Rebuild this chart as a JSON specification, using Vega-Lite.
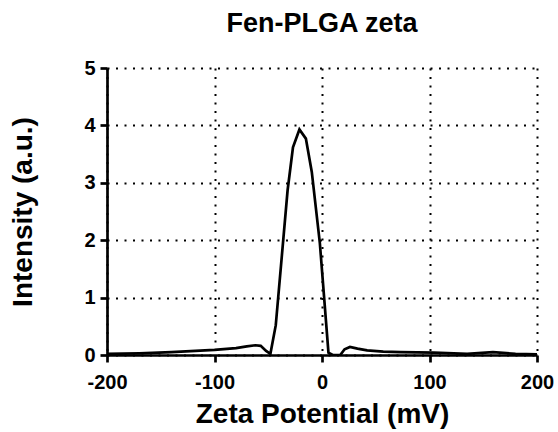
{
  "$schema": "https://vega.github.io/schema/vega-lite/v6.json",
  "autosize": "none",
  "width": 430,
  "height": 287,
  "padding": {"left": 107, "top": 68, "right": 21, "bottom": 77},
  "background": "white",
  "title": {"text": "Fen-PLGA zeta", "font": "Liberation Sans", "fontSize": 27, "fontWeight": "bold", "color": "black", "offset": 20, "anchor": "middle"},
  "data": {"values": [
    {"x": -200, "y": 0.02}, {"x": -170, "y": 0.03}, {"x": -140, "y": 0.05}, {"x": -100, "y": 0.09},
    {"x": -80, "y": 0.12}, {"x": -70, "y": 0.15}, {"x": -62, "y": 0.17}, {"x": -57, "y": 0.16},
    {"x": -52, "y": 0.07}, {"x": -48, "y": 0.02}, {"x": -43, "y": 0.52}, {"x": -32, "y": 2.87},
    {"x": -27, "y": 3.62}, {"x": -21, "y": 3.93}, {"x": -15, "y": 3.77}, {"x": -9.5, "y": 3.19},
    {"x": -2, "y": 1.95}, {"x": 6, "y": 0.04}, {"x": 10, "y": 0.0}, {"x": 17, "y": 0.0},
    {"x": 21, "y": 0.1}, {"x": 26, "y": 0.14}, {"x": 33, "y": 0.11}, {"x": 42, "y": 0.08},
    {"x": 57, "y": 0.06}, {"x": 73, "y": 0.05}, {"x": 104, "y": 0.04}, {"x": 135, "y": 0.02},
    {"x": 159, "y": 0.05}, {"x": 180, "y": 0.02}, {"x": 200, "y": 0.01}
  ]},
  "mark": {"type": "line", "color": "black", "strokeWidth": 2.7, "clip": true},
  "encoding": {
    "x": {"field": "x", "type": "quantitative", "scale": {"domain": [-200, 200], "nice": false, "zero": false},
      "axis": {"title": "Zeta Potential (mV)", "values": [-200, -100, 0, 100, 200], "titlePadding": 8, "labelPadding": 10,
        "labelExpr": "toString(datum.value)", "labelFlush": false}},
    "y": {"field": "y", "type": "quantitative", "scale": {"domain": [0, 5], "nice": false},
      "axis": {"title": "Intensity (a.u.)", "values": [0, 1, 2, 3, 4, 5], "titlePadding": 46, "labelPadding": 5,
        "labelExpr": "toString(datum.value)", "labelFlush": false}}
  },
  "config": {
    "view": {"stroke": null},
    "axis": {
      "labelFont": "Liberation Sans", "labelFontSize": 20, "labelFontWeight": "bold", "labelColor": "black",
      "titleFont": "Liberation Sans", "titleFontSize": 28, "titleFontWeight": "bold", "titleColor": "black",
      "domainColor": "black", "domainWidth": 2.7, "tickColor": "black", "tickWidth": 2.7, "tickSize": 7,
      "grid": true, "gridDash": [2, 6.5], "gridWidth": 2, "gridColor": "black", "gridOpacity": 1
    }
  }
}
